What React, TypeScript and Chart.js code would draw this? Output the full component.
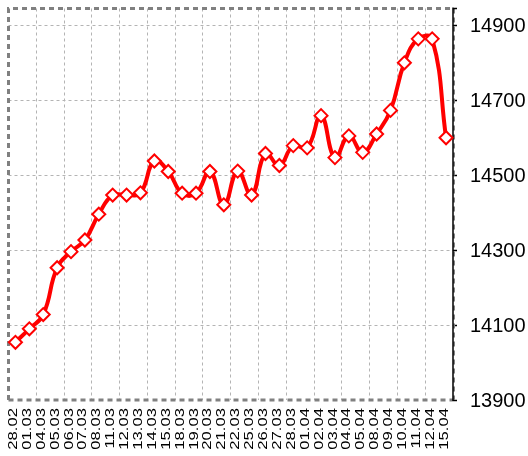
import React, { useEffect, useRef } from "react";
import { Chart, registerables } from "chart.js";

Chart.register(...registerables);

const categories = [
  "28.02", "01.03", "04.03", "05.03", "06.03", "07.03", "08.03", "11.03",
  "12.03", "13.03", "14.03", "15.03", "18.03", "19.03", "20.03", "21.03",
  "22.03", "25.03", "26.03", "27.03", "28.03", "01.04", "02.04", "03.04",
  "04.04", "05.04", "08.04", "09.04", "10.04", "11.04", "12.04", "15.04",
];

const values = [
  14054, 14090, 14128, 14253, 14296, 14327, 14396, 14447,
  14447, 14453, 14538, 14510, 14452, 14452, 14510, 14421,
  14511, 14447, 14558, 14526, 14579, 14573, 14659, 14547,
  14605, 14561, 14610, 14673, 14800, 14864, 14864, 14600,
];

const yTicks = [13900, 14100, 14300, 14500, 14700, 14900];
const yMin = 13900;
const yMax = 14945;

const framePlugin = {
  id: "frame",
  beforeDatasetsDraw(chart: any) {
    const { ctx, chartArea } = chart;
    const { left, right, top, bottom } = chartArea;
    ctx.save();
    ctx.strokeStyle = "#808080";
    ctx.lineWidth = 3;
    ctx.setLineDash([5, 4]);
    ctx.beginPath();
    ctx.moveTo(left, bottom);
    ctx.lineTo(left, top);
    ctx.lineTo(right, top);
    ctx.moveTo(left, bottom);
    ctx.lineTo(right, bottom);
    ctx.stroke();
    ctx.lineWidth = 2;
    ctx.beginPath();
    ctx.moveTo(right + 1, top);
    ctx.lineTo(right + 1, bottom);
    ctx.stroke();
    ctx.setLineDash([]);
    ctx.strokeStyle = "#000";
    ctx.lineWidth = 1.5;
    ctx.beginPath();
    ctx.moveTo(right, top - 1);
    ctx.lineTo(right, bottom + 1);
    ctx.moveTo(right, top);
    ctx.lineTo(right + 4, top);
    ctx.stroke();
    ctx.restore();
  },
  afterDraw(chart: any) {
    const { ctx } = chart;
    const xs = chart.scales.x;
    ctx.save();
    ctx.fillStyle = "#000";
    ctx.font = "13px 'Liberation Sans', Arial, sans-serif";
    ctx.textAlign = "right";
    ctx.textBaseline = "middle";
    categories.forEach((lab, i) => {
      const px = xs.getPixelForValue(i);
      ctx.save();
      ctx.translate(px - 2, chart.chartArea.bottom + 8);
      ctx.rotate(-Math.PI / 2);
      ctx.scale(1.28, 1);
      ctx.fillText(lab, 0, 0);
      ctx.restore();
    });
    ctx.restore();
  },
};

export default function App() {
  const ref = useRef<HTMLCanvasElement | null>(null);
  useEffect(() => {
    if (!ref.current) return;
    const chart = new Chart(ref.current, {
      type: "line",
      data: {
        labels: categories,
        datasets: [
          {
            data: values,
            borderColor: "#ff0000",
            borderWidth: 4,
            tension: 0.45,
            pointStyle: "rectRot",
            pointRadius: 6.5,
            pointBorderWidth: 2,
            pointBackgroundColor: "#ffffff",
            pointBorderColor: "#ff0000",
            clip: false as any,
          },
        ],
      },
      options: {
        animation: false,
        responsive: false,
        devicePixelRatio: 1,
        layout: { padding: { left: 8, top: 3, right: 0, bottom: 0 } },
        plugins: { legend: { display: false }, tooltip: { enabled: false } },
        scales: {
          x: {
            type: "category",
            offset: true,
            ticks: { display: false },
            grid: {
              offset: true,
              drawTicks: false,
              lineWidth: 1,
              color: (c: any) =>
                c.index > 0 && c.index < categories.length && c.index % 2 === 0
                  ? "#b4b4b4"
                  : "rgba(0,0,0,0)",
              borderDash: [3, 3],
            } as any,
            border: { display: false, dash: [3, 3] },
            afterFit: (s: any) => {
              s.height = 56;
              s.paddingLeft = 0;
              s.paddingRight = 0;
            },
          },
          y: {
            position: "right",
            min: yMin,
            max: yMax,
            afterBuildTicks: (s: any) => {
              s.ticks = yTicks.map((v) => ({ value: v }));
            },
            ticks: {
              color: "#000",
              padding: 13,
              labelOffset: 1,
              font: { family: "'Liberation Sans', Arial, sans-serif", size: 20 },
              callback: (v: any) => String(v),
            },
            grid: {
              color: (c: any) => (c.index === 0 ? "rgba(0,0,0,0)" : "#b4b4b4"),
              lineWidth: 1,
              drawTicks: true,
              tickLength: 4,
              tickColor: "#000",
              tickWidth: 1.5,
              borderDash: [3, 3],
            } as any,
            border: { display: false, dash: [3, 3] },
            afterFit: (s: any) => {
              s.width = 75;
              s.paddingTop = 0;
              s.paddingBottom = 0;
            },
          },
        },
      },
      plugins: [framePlugin],
    });
    return () => chart.destroy();
  }, []);
  return (
    <div style={{ position: "fixed", left: 0, top: 0, width: 528, height: 456, background: "#fff" }}>
      <canvas ref={ref} width={528} height={456} style={{ display: "block" }} />
    </div>
  );
}
